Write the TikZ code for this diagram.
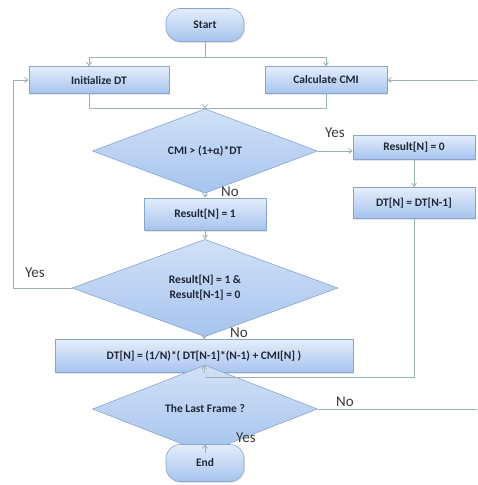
\documentclass[tikz,border=0pt]{standalone}
\usepackage{fontspec}
\setmainfont{Carlito}
\usetikzlibrary{shapes.geometric,arrows.meta,shadows}

\definecolor{boxtop}{HTML}{E4EDFB}
\definecolor{boxbot}{HTML}{A6C4EE}
\definecolor{boxline}{HTML}{8AA5CC}
\definecolor{boxtext}{HTML}{1E2638}
\definecolor{flowgray}{HTML}{9DB0B2}
\definecolor{labelgray}{HTML}{3A3A3A}

\tikzset{
  flowbox/.style={rectangle, draw=boxline, line width=0.6pt, top color=boxtop, bottom color=boxbot,
    inner sep=0pt, text=boxtext, font=\fontsize{11.5}{14}\selectfont\bfseries,
    drop shadow={opacity=0.2, shadow xshift=1pt, shadow yshift=-1.5pt}},
  termbox/.style={flowbox, rounded corners=14pt},
  testbox/.style={diamond, draw=boxline, line width=0.6pt, top color=boxtop!70!boxbot, bottom color=boxbot,
    inner sep=0pt, text=boxtext, font=\fontsize{11.5}{15}\selectfont\bfseries, align=center},
  flowline/.style={draw=flowgray, line width=0.8pt},
  flowarrow/.style={flowline, -{Straight Barb[length=3.5pt,width=5pt]}},
  yesno/.style={text=labelgray, font=\fontsize{15}{17}\selectfont, inner sep=0pt}
}

\begin{document}
\begin{tikzpicture}[x=1pt,y=-1pt]
\useasboundingbox (0,0) rectangle (477,485);
\clip (0,0) rectangle (477,485);

% nodes
\node[termbox, minimum width=78pt, minimum height=33pt] (start) at (205,25) {Start};
\node[flowbox, minimum width=140pt, minimum height=27pt] (init) at (99,80) {Initialize DT};
\node[flowbox, minimum width=122pt, minimum height=27pt] (calc) at (326,80) {Calculate CMI};
\node[testbox, minimum width=225pt, minimum height=52pt] (cmp) at (205,151) {CMI > (1+α)*DT};
\node[flowbox, minimum width=122pt, minimum height=24pt] (res0) at (414,147) {Result[N] = 0};
\node[flowbox, minimum width=122pt, minimum height=31pt] (dtkeep) at (414,203) {DT[N] = DT[N-1]};
\node[flowbox, minimum width=122pt, minimum height=32pt] (res1) at (205,214) {Result[N] = 1};
\node[testbox, minimum width=266pt, minimum height=63pt] (check) at (205,288) {Result[N] = 1 \&\\Result[N-1] = 0};
\node[flowbox, minimum width=298pt, minimum height=33pt] (dtnew) at (204,356) {DT[N] = (1/N)*( DT[N-1]*(N-1) + CMI[N] )};
\node[testbox, minimum width=225pt, minimum height=42pt] (last) at (205,409) {The Last Frame ?};
\node[termbox, minimum width=78pt, minimum height=37pt] (end) at (205,463) {End};

% corner points
\coordinate (fork) at (205,57);
\coordinate (forkl) at (89,57);
\coordinate (forkr) at (326,57);
\coordinate (joinl) at (89,108);
\coordinate (joinr) at (326,108);
\coordinate (join) at (205,108);
\coordinate (merge) at (205,377);
\coordinate (loopl) at (13,288);
\coordinate (loopr) at (480,409);

% connectors
\draw[flowline] (start) -- (fork);
\draw[flowline] (forkl) -- (forkr);
\draw[flowarrow] (forkl) -- (forkl |- init.north);
\draw[flowarrow] (forkr) -- (calc.north);
\draw[flowline] (joinl |- init.south) -- (joinl) -- (joinr) -- (calc.south);
\draw[flowarrow] (join) -- (cmp.north);
\draw[flowarrow] (cmp.east) -- (cmp.east -| res0.west);
\draw[flowarrow] (res0) -- (dtkeep);
\draw[flowarrow] (cmp) -- (res1);
\draw[flowarrow] (res1) -- (check);
\draw[flowarrow] (check.west) -- (loopl) |- (init.west);
\draw[flowarrow] (check) -- (dtnew);
\draw[flowline] (dtkeep.south) |- (merge);
\draw[flowarrow] (dtnew) -- (last);
\draw[flowarrow] (last.east) -- (loopr) |- (calc.east);
\draw[flowarrow] (last) -- (end);

% labels
\node[yesno] (yes1) at (335,133) {Yes};
\node[yesno] (no1) at (230,192) {No};
\node[yesno] (yes2) at (35,273) {Yes};
\node[yesno] (no2) at (239,333) {No};
\node[yesno] (no3) at (345,402) {No};
\node[yesno] (yes3) at (246,438) {Yes};
\end{tikzpicture}
\end{document}
